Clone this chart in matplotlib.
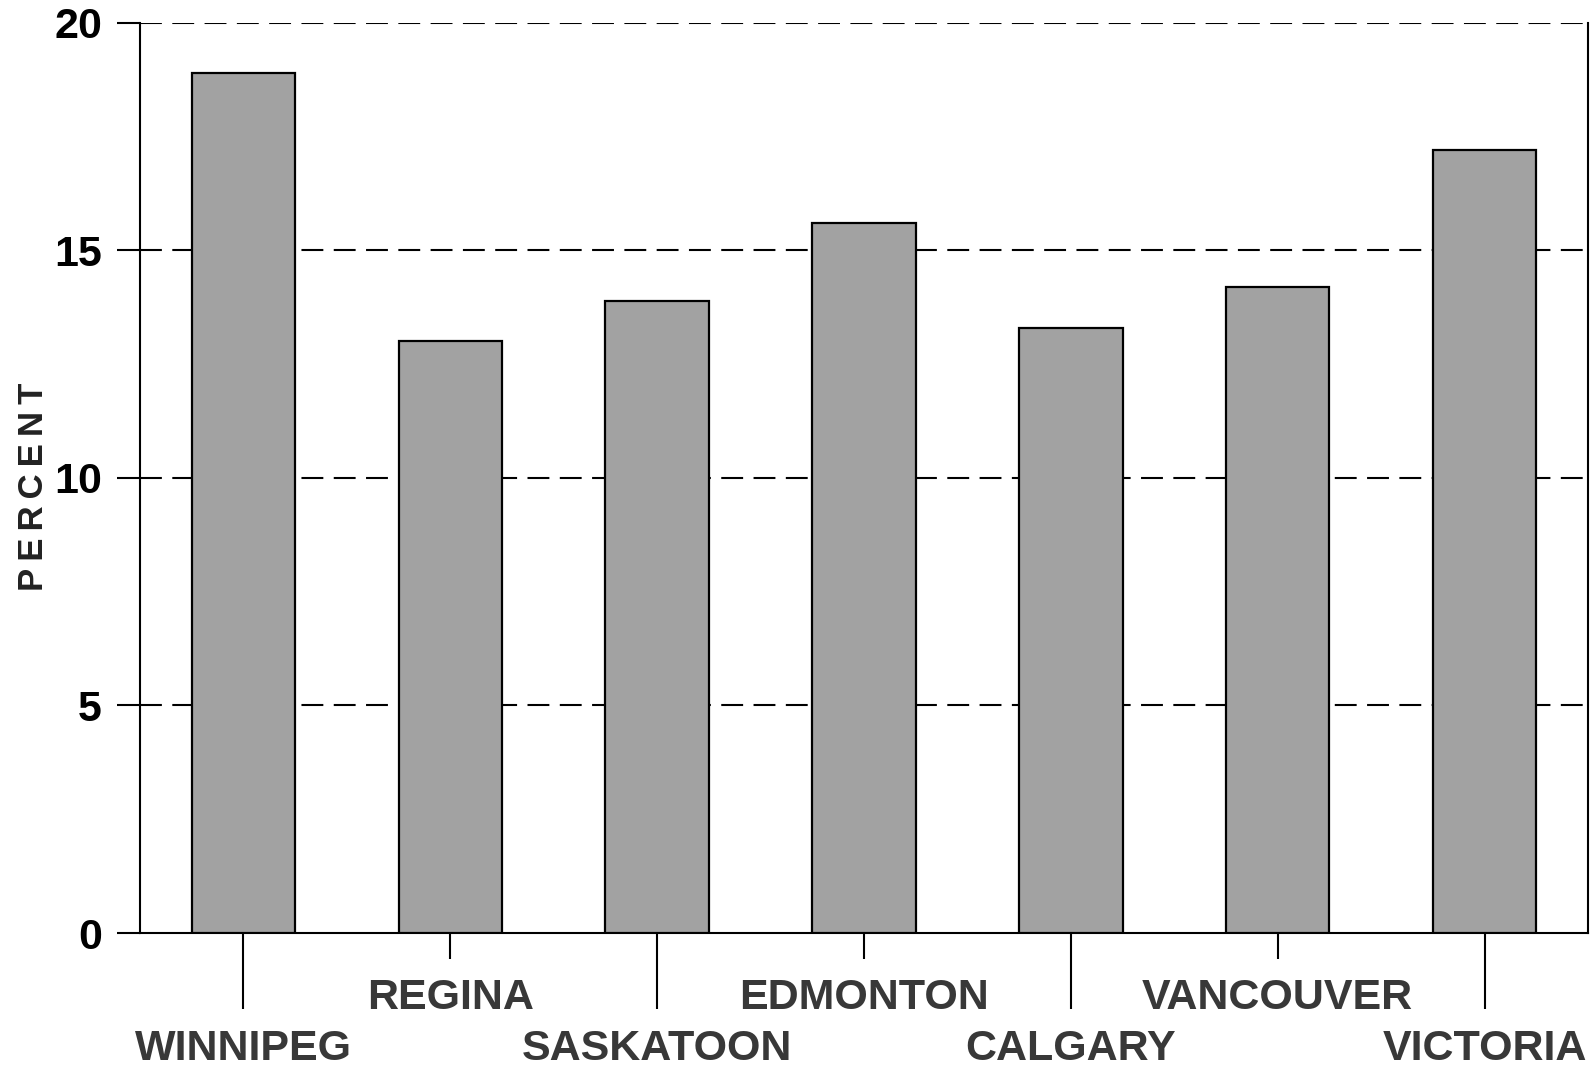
import matplotlib
matplotlib.use("Agg")
import matplotlib.pyplot as plt
import numpy as np

cities = ["WINNIPEG", "REGINA", "SASKATOON", "EDMONTON", "CALGARY", "VANCOUVER", "VICTORIA"]
percent = [18.9, 13.0, 13.9, 15.6, 13.3, 14.2, 17.2]
yticks = [0, 5, 10, 15, 20]

plt.rcParams['font.family'] = ['Liberation Sans', 'DejaVu Sans']

fig = plt.figure(figsize=(15.9, 10.68), dpi=100)
ax = fig.add_axes([0.0881, 0.1264, 0.9106, 0.8521])

x = np.arange(len(cities))
ax.bar(x, percent, width=0.5, color='#a2a2a2', edgecolor='black', linewidth=1.6, zorder=3)

ax.set_xlim(-0.5, len(cities) - 0.5)
ax.set_ylim(0, 20)

# y axis
ax.set_yticks(yticks)
ax.set_yticklabels([str(v) for v in yticks], fontsize=31, fontweight='bold')
ax.tick_params(axis='y', direction='out', length=16.5, width=1.5, pad=11, colors='black')
for v in yticks[1:]:
    ax.axhline(v, color='black', linewidth=1.5, linestyle=(0, (10.5, 5)), zorder=1)

# x axis: staggered labels via major (long) and minor (short) ticks
even = x[0::2]
odd = x[1::2]
ax.set_xticks(even)
ax.set_xticklabels([cities[i] for i in even], fontsize=31, fontweight='bold', color='#383838')
ax.set_xticks(odd, minor=True)
ax.set_xticklabels([cities[i] for i in odd], minor=True, fontsize=31, fontweight='bold', color='#383838')
ax.tick_params(axis='x', which='major', direction='out', length=55, width=1.5, pad=14)
ax.tick_params(axis='x', which='minor', direction='out', length=18.5, width=1.5, pad=14)

for s in ['left', 'right', 'bottom']:
    ax.spines[s].set_linewidth(1.5)
ax.spines['top'].set_visible(False)

fig.text(0.021, 0.544, "P\u2009E\u2009R\u2009C\u2009E\u2009N\u2009T", rotation=90, fontsize=25,
         fontweight='bold', va='center', ha='center', color='#222222')

fig.savefig("out.png", dpi=100)
